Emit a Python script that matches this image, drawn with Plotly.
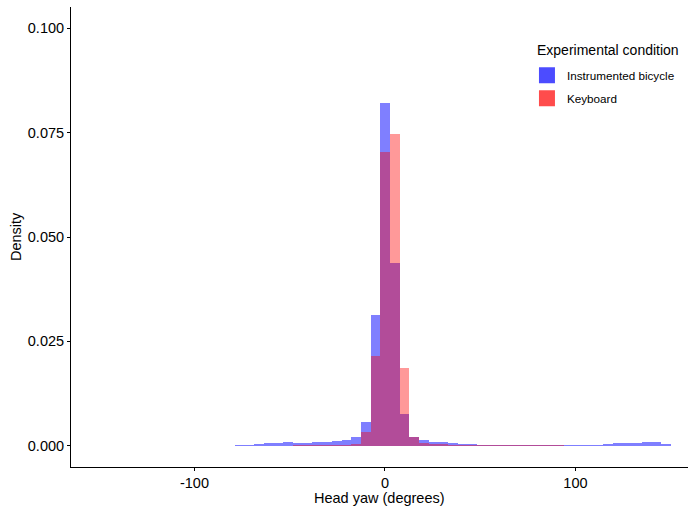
import plotly.graph_objects as go

# Histogram bins (degrees of head yaw)
BIN_START = -78.7
BIN_WIDTH = 5.083
N_BINS = 45

# Density per bin for each experimental condition
bicycle_density = [
    0.0001, 0.00024, 0.0005, 0.00064, 0.00064, 0.0008, 0.00064, 0.00064,
    0.0008, 0.0009, 0.0011, 0.0014, 0.0022, 0.0057, 0.0313, 0.0820,
    0.0437, 0.0077, 0.0021, 0.0014, 0.0010, 0.0008, 0.00056, 0.0005,
    0.0003, 0.00024, 0.00024, 0.00024, 0.00024, 0.00024, 0.00024, 0.00024,
    0.00024, 0.00024, 0.00024, 0.00024, 0.00024, 0.00024, 0.0005, 0.00056,
    0.00056, 0.0007, 0.0010, 0.0010, 0.0004,
]
keyboard_density = [
    0, 0, 0, 0, 0, 0, 0.0001, 0.0001,
    0.0001, 0.0001, 0.0001, 0.00015, 0.0004, 0.0032, 0.0216, 0.0703,
    0.0746, 0.0186, 0.0021, 0.00064, 0.00044, 0.0003, 0.00024, 0.00024,
    0.0002, 0.00015, 0.00015, 0.00015, 0.00015, 0.00015, 0.00015, 0.00015,
    0.00015, 0.00015, 0, 0, 0, 0, 0, 0,
    0, 0, 0, 0, 0,
]

series_names = ["Instrumented bicycle", "Keyboard"]
legend_title = "Experimental condition"
x_title = "Head yaw (degrees)"
y_title = "Density"
x_ticks = [-100, 0, 100]
y_ticks = [0.000, 0.025, 0.050, 0.075, 0.100]

centers = [BIN_START + BIN_WIDTH * (i + 0.5) for i in range(N_BINS)]

FONT = "Liberation Sans, Arial, sans-serif"

fig = go.Figure()
fig.add_trace(go.Bar(
    x=centers, y=bicycle_density, width=BIN_WIDTH,
    marker=dict(color="rgba(0,0,255,0.5)", line=dict(width=0)),
    name=series_names[0], showlegend=False,
))
fig.add_trace(go.Bar(
    x=centers, y=keyboard_density, width=BIN_WIDTH,
    marker=dict(color="rgba(255,0,0,0.4)", line=dict(width=0)),
    name=series_names[1], showlegend=False,
))
# legend keys
for i, (name, col) in enumerate(zip(series_names, ["rgba(0,0,255,0.7)", "rgba(255,0,0,0.7)"])):
    fig.add_trace(go.Scatter(
        x=[None], y=[None], mode="markers", name=name, legendgroup=f"g{i}",
        marker=dict(symbol="square", size=16, color=col, line=dict(width=0)),
    ))

# legend title and axis titles
fig.add_annotation(
    text=legend_title, xref="paper", yref="paper", x=0.752, y=0.907,
    xanchor="left", yanchor="middle", showarrow=False,
    font=dict(size=14, color="black"),
)
fig.add_annotation(
    text=x_title, xref="paper", yref="paper", x=0.5, y=-0.0665,
    xanchor="center", yanchor="middle", showarrow=False, borderpad=0,
    font=dict(size=14.5, color="black"),
)
fig.add_annotation(
    text=y_title, xref="paper", yref="paper", x=-0.0891, y=0.5,
    xanchor="center", yanchor="middle", showarrow=False, textangle=-90,
    font=dict(size=14.5, color="black"),
)

fig.update_layout(
    width=690, height=508,
    margin=dict(l=71, r=2, t=7, b=41),
    plot_bgcolor="white", paper_bgcolor="white",
    barmode="overlay", bargap=0,
    font=dict(family=FONT, color="black"),
    legend=dict(
        font=dict(size=11.7, color="black"),
        x=0.739, y=0.883, xanchor="left", yanchor="top",
        bgcolor="rgba(0,0,0,0)", itemwidth=30, tracegroupgap=4,
    ),
    xaxis=dict(
        range=[-164.8, 159.1], tickvals=x_ticks, ticktext=[str(v) for v in x_ticks],
        showgrid=False, zeroline=False, showline=True, linecolor="black", linewidth=1,
        ticks="outside", ticklen=3, tickcolor="black",
        tickfont=dict(size=14.5, color="black"),
    ),
    yaxis=dict(
        range=[-0.0051, 0.1051], tickvals=y_ticks, ticktext=[f"{v:.3f}" for v in y_ticks],
        showgrid=False, zeroline=False, showline=True, linecolor="black", linewidth=1,
        ticks="outside", ticklen=3, tickcolor="black",
        tickfont=dict(size=14.5, color="black"),
    ),
)

fig.write_html("out.html")
